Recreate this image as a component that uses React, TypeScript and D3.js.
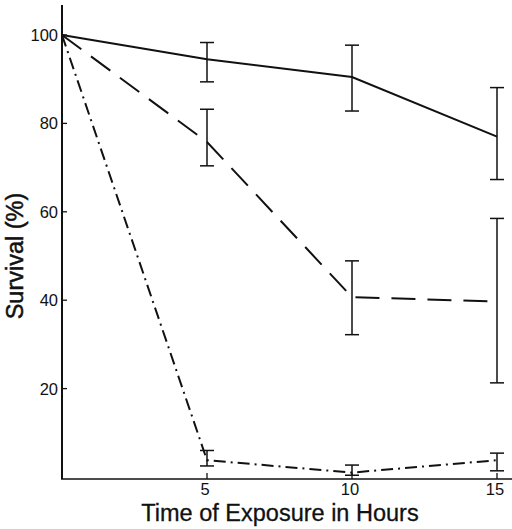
import React from "react";
import * as d3 from "d3";

const hours = [0, 5, 10, 15];
const solidMean = [100, 94.5, 90.5, 77];
const solidHi = [null, 98.3, 97.7, 88.1];
const solidLo = [null, 89.4, 82.8, 67.3];
const dashedMean = [100, 75.8, 40.7, 39.7];
const dashedHi = [null, 83.2, 48.9, 58.5];
const dashedLo = [null, 70.4, 32.2, 21.3];
const dotMean = [100, 3.8, 1, 3.8];
const dotHi = [null, 6, 2.7, 5.4];
const dotLo = [null, 2.5, 0.4, 1.4];
const yTicks = [20, 40, 60, 80, 100];
const xTicks = [5, 10, 15];

const W = 512, H = 529;

export default function App() {
  const x = d3.scaleLinear().domain([0, 15]).range([62, 497]);
  const y = d3.scaleLinear().domain([0, 100]).range([477, 35]);
  const line = d3.line<number>().x((_, i) => x(hours[i])).y((d) => y(d));
  const series = [
    { mean: solidMean, hi: solidHi, lo: solidLo, dash: "none" },
    { mean: dashedMean, hi: dashedHi, lo: dashedLo, dash: "24,12" },
    { mean: dotMean, hi: dotHi, lo: dotLo, dash: "12,5,2,5" },
  ];
  const font = "'Liberation Sans', Arial, Helvetica, sans-serif";
  return (
    <svg width={W} height={H} style={{ position: "absolute", left: 0, top: 0, background: "#fff" }}>
      <rect width={W} height={H} fill="#fff" />
      <line x1={62} y1={5} x2={62} y2={479} stroke="#111" strokeWidth={2} />
      <line x1={61} y1={479} x2={512} y2={479} stroke="#111" strokeWidth={1.6} />
      {yTicks.map((t) => (
        <g key={t}>
          <line x1={62} x2={67} y1={y(t)} y2={y(t)} stroke="#111" strokeWidth={1.3} />
          <text x={58} y={y(t) + 6} textAnchor="end" fontFamily={font} fontSize={16.5} fill="#111">{t}</text>
        </g>
      ))}
      {xTicks.map((t) => (
        <g key={t}>
          <line x1={x(t)} x2={x(t)} y1={479} y2={473} stroke="#111" strokeWidth={1.3} />
          <text x={x(t) - 2} y={495} textAnchor="middle" fontFamily={font} fontSize={16.5} fill="#111">{t}</text>
        </g>
      ))}
      {series.map((s, si) => (
        <g key={si}>
          <path d={line(s.mean) || ""} fill="none" stroke="#111" strokeWidth={2} strokeDasharray={s.dash} />
          {s.mean.map((m, i) =>
            s.hi[i] == null ? null : (
              <g key={i} stroke="#111" strokeWidth={1.5}>
                <line x1={x(hours[i])} x2={x(hours[i])} y1={y(s.hi[i] as number)} y2={y(s.lo[i] as number)} />
                <line x1={x(hours[i]) - 7} x2={x(hours[i]) + 7} y1={y(s.hi[i] as number)} y2={y(s.hi[i] as number)} />
                <line x1={x(hours[i]) - 7} x2={x(hours[i]) + 7} y1={y(s.lo[i] as number)} y2={y(s.lo[i] as number)} />
              </g>
            )
          )}
        </g>
      ))}
      <text x={280} y={521} textAnchor="middle" fontFamily={font} fontSize={23.5} fill="#111" stroke="#111" strokeWidth={0.3}>Time of Exposure in Hours</text>
      <text transform="translate(23,256) rotate(-90)" textAnchor="middle" fontFamily={font} fontSize={23.5} fill="#111" stroke="#111" strokeWidth={0.5}>Survival (%)</text>
    </svg>
  );
}
